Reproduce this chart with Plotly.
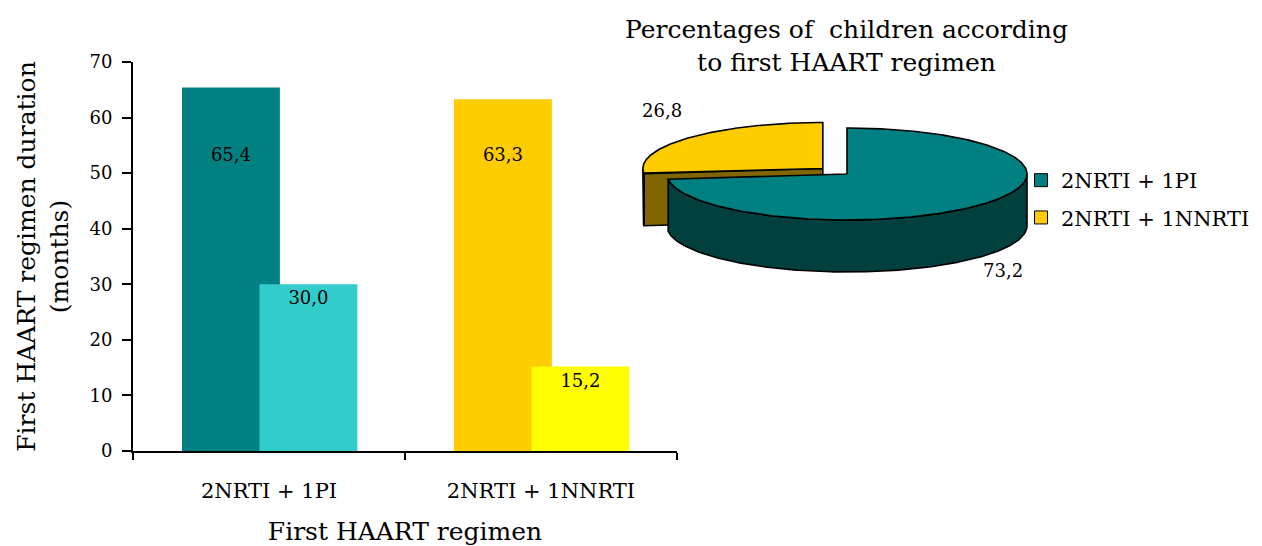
import math
import plotly.graph_objects as go

# ---------------- data ----------------
regimens = ["2NRTI + 1PI", "2NRTI + 1NNRTI"]
duration_series_1 = [65.4, 63.3]
duration_series_2 = [30.0, 15.2]
series_1_colors = ["#008080", "#FFCC00"]
series_2_colors = ["#33CCCC", "#FFFF00"]

pie_labels = ["2NRTI + 1PI", "2NRTI + 1NNRTI"]
pie_values = [73.2, 26.8]
pie_top_colors = ["#008080", "#FFCC00"]
pie_side_colors = ["#024040", "#806600"]
pie_pull = [0.0, 0.18]

y_ticks = [0, 10, 20, 30, 40, 50, 60, 70]

FONT = "DejaVu Serif"
PAGE_MARGIN = 8          # default body margin of the html page
W, H = 1262 - PAGE_MARGIN, 546 - PAGE_MARGIN

def fx(px):
    return (px - PAGE_MARGIN) / W

def fy(py):
    return 1 - (py - PAGE_MARGIN) / H

fig = go.Figure()

# ---------------- bar chart ----------------
BAR_W = 0.36
OFF_1 = -0.32
OFF_2 = -0.035
xs = list(range(len(regimens)))

fig.add_trace(go.Bar(x=xs, y=duration_series_1, width=BAR_W, offset=OFF_1,
                     marker=dict(color=series_1_colors, line=dict(width=0)),
                     showlegend=False, hoverinfo="y"))
fig.add_trace(go.Bar(x=xs, y=duration_series_2, width=BAR_W, offset=OFF_2,
                     marker=dict(color=series_2_colors, line=dict(width=0)),
                     showlegend=False, hoverinfo="y"))

def fmt(v):
    return f"{v:.1f}".replace(".", ",")

lab_x, lab_y, lab_t = [], [], []
for off, vals in ((OFF_1, duration_series_1), (OFF_2, duration_series_2)):
    for i, v in zip(xs, vals):
        lab_x.append(i + off + BAR_W / 2)
        lab_y.append(min(v - 2.8, 53.0))
        lab_t.append(fmt(v))
fig.add_trace(go.Scatter(x=lab_x, y=lab_y, text=lab_t, mode="text",
                         textfont=dict(family=FONT, size=18, color="black"),
                         showlegend=False, hoverinfo="skip", cliponaxis=False))

# ---------------- 3D-look pie ----------------
CX, CY, RX, RY, DEPTH = 847.0, 174.0, 180.0, 46.0, 52.0
total = sum(pie_values)
slices = []
start = 90.0
for val, pull in zip(pie_values, pie_pull):
    span = 360.0 * val / total
    s, e = start, start - span
    m = math.radians((s + e) / 2)
    cx = CX + pull * RX * math.cos(m)
    cy = CY - pull * RY * math.sin(m)
    slices.append(dict(s=s, e=e, cx=cx, cy=cy, mid=(s + e) / 2))
    start = e

def pt(cx, cy, deg, dz=0.0):
    t = math.radians(deg)
    return cx + RX * math.cos(t), cy - RY * math.sin(t) + dz

def poly_trace(px, py, fill):
    return go.Scatter(x=px + [px[0]], y=py + [py[0]], mode="lines", fill="toself",
                      fillcolor=fill, line=dict(color="black", width=1.6),
                      xaxis="x2", yaxis="y2", showlegend=False, hoverinfo="skip")

order = sorted(range(len(slices)), key=lambda k: -math.sin(math.radians(slices[k]["mid"])))
for k in order:
    sl = slices[k]
    cx, cy, s, e = sl["cx"], sl["cy"], sl["s"], sl["e"]
    # radial faces facing the viewer
    for a, normal in ((s, s + 90), (e, e - 90)):
        if math.sin(math.radians(normal)) < -1e-6:
            x1, y1 = pt(cx, cy, a)
            fig.add_trace(poly_trace([cx, x1, x1, cx], [cy, y1, y1 + DEPTH, cy + DEPTH],
                                     pie_side_colors[k]))
    # outer wall (front-facing runs)
    n = 400
    angs = [s + (e - s) * j / n for j in range(n + 1)]
    runs, cur = [], []
    for a in angs:
        if math.sin(math.radians(a)) < 0:
            cur.append(a)
        else:
            if len(cur) > 1:
                runs.append(cur)
            cur = []
    if len(cur) > 1:
        runs.append(cur)
    for run in runs:
        top = [pt(cx, cy, a) for a in run]
        bot = [pt(cx, cy, a, DEPTH) for a in reversed(run)]
        pts = top + bot
        fig.add_trace(poly_trace([p[0] for p in pts], [p[1] for p in pts], pie_side_colors[k]))
    # top face
    arc = [pt(cx, cy, a) for a in angs]
    px = [cx] + [p[0] for p in arc]
    py = [cy] + [p[1] for p in arc]
    fig.add_trace(poly_trace(px, py, pie_top_colors[k]))

# legend entries
for i, (lab, col) in enumerate(zip(pie_labels, pie_top_colors)):
    fig.add_trace(go.Scatter(x=[None], y=[None], mode="markers", name=lab,
                             marker=dict(symbol="square", size=13, color=col,
                                         line=dict(color="black", width=1)),
                             xaxis="x2", yaxis="y2", legendgroup=f"g{i}", showlegend=True))

# pie value labels
fig.add_annotation(x=662, y=110, xref="x2", yref="y2", text=fmt(pie_values[1]),
                   showarrow=False, font=dict(family=FONT, size=18, color="black"))
fig.add_annotation(x=1003, y=270, xref="x2", yref="y2", text=fmt(pie_values[0]),
                   showarrow=False, font=dict(family=FONT, size=18, color="black"))

# pie title
fig.add_annotation(x=fx(846), y=fy(46.5), xref="paper", yref="paper",
                   xanchor="center", yanchor="middle", showarrow=False,
                   text="Percentages of&nbsp; children according<br>to first HAART regimen",
                   font=dict(family=FONT, size=25, color="black"))

fig.update_layout(
    width=W, height=H, autosize=False,
    margin=dict(l=0, r=0, t=0, b=0, pad=0, autoexpand=False),
    paper_bgcolor="white", plot_bgcolor="rgba(0,0,0,0)",
    font=dict(family=FONT, color="black"),
    barmode="overlay",
    xaxis=dict(domain=[fx(133), fx(677)], range=[-0.5, 1.5], tickvals=xs, ticktext=regimens,
               ticks="", showline=True, linecolor="black", linewidth=2, showgrid=False,
               zeroline=False, tickfont=dict(family=FONT, size=21), ticklabelstandoff=20,
               automargin=False,
               minor=dict(tickmode="linear", tick0=-0.5, dtick=1, ticks="outside",
                          ticklen=7, tickwidth=2, tickcolor="black", showgrid=False),
               title=dict(text="First HAART regimen", standoff=20,
                          font=dict(family=FONT, size=25))),
    yaxis=dict(domain=[fy(451), fy(62)], range=[0, 70], tickvals=y_ticks,
               ticks="outside", ticklen=9, tickwidth=2, tickcolor="black",
               showline=True, linecolor="black", linewidth=2, showgrid=False, zeroline=False,
               tickfont=dict(family=FONT, size=18), ticklabelstandoff=6, automargin=False,
               title=dict(text="First HAART regimen duration<br>(months)", standoff=14,
                          font=dict(family=FONT, size=25))),
    xaxis2=dict(domain=[fx(600), fx(1060)], range=[600, 1060], visible=False, anchor="y2",
                automargin=False),
    yaxis2=dict(domain=[fy(300), fy(95)], range=[300, 95], visible=False,
                anchor="x2", automargin=False),
    legend=dict(x=fx(1021), y=fy(160), xanchor="left", yanchor="top",
                font=dict(family=FONT, size=21, color="black"), bgcolor="rgba(0,0,0,0)",
                traceorder="grouped", tracegroupgap=7),
)

fig.write_html("out.html")
